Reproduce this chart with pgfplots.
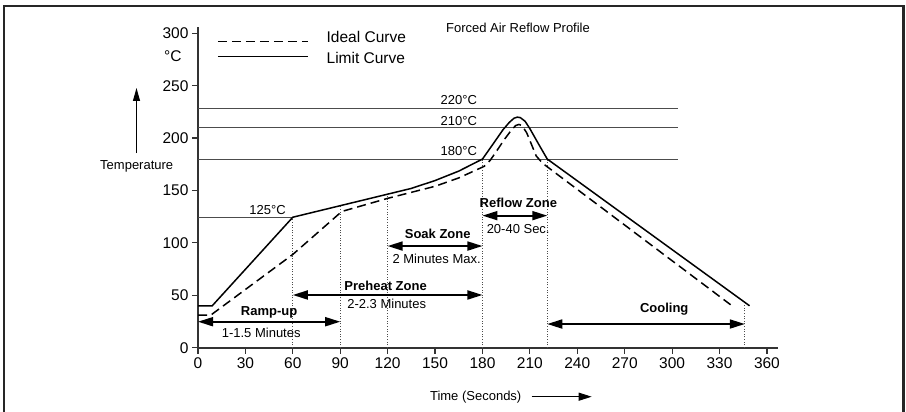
\documentclass[border=0pt]{standalone}
\usepackage{fontspec}
\setmainfont{Liberation Sans}
\usepackage{pgfplots}
\pgfplotsset{compat=1.18}
\usetikzlibrary{arrows.meta}
\newcommand{\fs}[1]{\fontsize{#1}{#1}\selectfont}
\begin{document}
\begin{tikzpicture}[x=1pt,y=1pt]
\useasboundingbox (0,0) rectangle (906,-412);
\begin{axis}[
  at={(198pt,-347.7pt)}, anchor=south west,
  scale only axis, width=580pt, height=320.7pt,
  xmin=0, xmax=367, ymin=0, ymax=306,
  axis x line*=bottom, axis y line*=left,
  axis line style={line width=1.8pt, black!80},
  xtick={0,30,...,360}, ytick={0,50,...,300},
  tick align=outside, major tick length=6pt,
  tick style={line width=1.2pt, black!80},
  tick label style={font=\fs{15.5}},
  /pgf/number format/assume math mode=true,
  clip=false,
  legend style={at={(axis cs:12,304)}, anchor=north west, draw=none, fill=none,
    inner sep=0pt, font=\fs{15.5}, row sep=4pt,
    /tikz/every even column/.append style={column sep=0pt}},
  legend cell align=left,
  legend image code/.code={\draw[#1] (0pt,0pt) -- (90pt,0pt);},
]
\addlegendimage{black, line width=1.5pt, dash pattern=on 9pt off 5pt, yshift=-4pt}
\addlegendentry{\hspace{16pt}Ideal Curve}
\addlegendimage{black, line width=1.5pt, yshift=2pt}
\addlegendentry{\hspace{16pt}Limit Curve}
% reference lines
\addplot[forget plot, black!70, line width=0.9pt] coordinates {(0,228.4) (304,228.4)};
\addplot[forget plot, black!70, line width=0.9pt] coordinates {(0,210) (304,210)};
\addplot[forget plot, black!70, line width=0.9pt] coordinates {(0,180) (304,180)};
\addplot[forget plot, black!70, line width=0.9pt] coordinates {(0,124.5) (60,124.5)};
% dotted verticals
\addplot[forget plot, black!70, line width=0.8pt, dash pattern=on 1pt off 1.6pt] coordinates {(60,0) (60,124.5)};
\addplot[forget plot, black!70, line width=0.8pt, dash pattern=on 1pt off 1.6pt] coordinates {(90,0) (90,135.5)};
\addplot[forget plot, black!70, line width=0.8pt, dash pattern=on 1pt off 1.6pt] coordinates {(120,0) (120,146.5)};
\addplot[forget plot, black!70, line width=0.8pt, dash pattern=on 1pt off 1.6pt] coordinates {(180,0) (180,180)};
\addplot[forget plot, black!70, line width=0.8pt, dash pattern=on 1pt off 1.6pt] coordinates {(221,0) (221,180)};
\addplot[forget plot, black!70, line width=0.8pt, dash pattern=on 1pt off 1.6pt] coordinates {(346,0) (346,42)};
% curves
\addplot[forget plot, black, line width=1.5pt, dash pattern=on 9pt off 5pt] coordinates {
 (0,31) (8,31) (60,89) (91,130) (120,142.5) (150,154) (165,162) (181,173) (185,179)
 (190,190) (194,199) (198,207) (201,212) (203,213) (205,212) (208,205) (211,194)
 (214,183) (218,176) (337,41)};
\addplot[forget plot, black, line width=1.5pt] coordinates {
 (0,40) (9,40) (60,124.5) (90,135.5) (120,146.5) (135,152) (150,159.5) (165,168.5)
 (180,180) (187,195) (193,208) (197,215) (200,219) (202,220) (204,219.5) (207,216)
 (210,209) (213,201) (216,193) (221,180) (349,40)};
% zone arrows
\addplot[forget plot, black, line width=1.8pt, {Triangle[length=15pt,width=9pt]}-{Triangle[length=15pt,width=9pt]}] coordinates {(0,24.8) (90,24.8)};
\addplot[forget plot, black, line width=1.8pt, {Triangle[length=15pt,width=9pt]}-{Triangle[length=15pt,width=9pt]}] coordinates {(60,50.3) (180,50.3)};
\addplot[forget plot, black, line width=1.8pt, {Triangle[length=15pt,width=9pt]}-{Triangle[length=15pt,width=9pt]}] coordinates {(120,97) (180,97)};
\addplot[forget plot, black, line width=1.8pt, {Triangle[length=15pt,width=9pt]}-{Triangle[length=15pt,width=9pt]}] coordinates {(180,126) (221,126)};
\addplot[forget plot, black, line width=1.8pt, {Triangle[length=15pt,width=9pt]}-{Triangle[length=15pt,width=9pt]}] coordinates {(221,22.6) (346,22.6)};
% labels
\node[font=\fs{13}] at (axis cs:165,236) {220°C};
\node[font=\fs{13}] at (axis cs:165,216.5) {210°C};
\node[font=\fs{13}] at (axis cs:165,187.6) {180°C};
\node[font=\fs{13}] at (axis cs:44,131) {125°C};
\node[font=\fs{13}\bfseries] at (axis cs:45,34) {Ramp-up};
\node[font=\fs{13}] at (axis cs:40,14) {1-1.5 Minutes};
\node[font=\fs{13}\bfseries] at (axis cs:118.7,59.2) {Preheat Zone};
\node[font=\fs{13}] at (axis cs:119.4,41.4) {2-2.3 Minutes};
\node[font=\fs{13}\bfseries] at (axis cs:151.7,109) {Soak Zone};
\node[font=\fs{13}] at (axis cs:151,84.6) {2 Minutes Max.};
\node[font=\fs{13}\bfseries] at (axis cs:202.7,138.4) {Reflow Zone};
\node[font=\fs{13}] at (axis cs:202.6,113) {20-40 Sec.};
\node[font=\fs{13}\bfseries] at (axis cs:295,36.6) {Cooling};
\end{axis}
% outside annotations
\node[anchor=east, font=\fs{15.5}] at (185,-56) {°C};
\draw[-{Triangle[length=13pt,width=7pt]}, line width=1pt] (136.5,-153) -- (136.5,-88);
\node[font=\fs{13}] at (136.7,-166) {Temperature};
\node[font=\fs{13}] at (518,-28) {Forced Air Reflow Profile};
\node[font=\fs{13}] at (475.7,-396.7) {Time (Seconds)};
\draw[-{Triangle[length=13pt,width=8pt]}, line width=1pt] (531.7,-396.7) -- (591.7,-396.7);
\draw[line width=2.8pt, black!85] (4,-420) -- (4,-6) -- (903.5,-6) -- (903.5,-420);
\end{tikzpicture}
\end{document}
